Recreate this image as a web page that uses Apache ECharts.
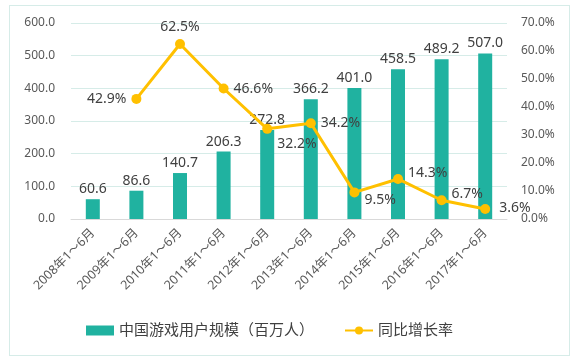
<!DOCTYPE html>
<html><head><meta charset="utf-8">
<script src="https://cdn.jsdelivr.net/npm/echarts@6/dist/echarts.min.js"></script>
<style>html,body{margin:0;padding:0;background:#fff}#c{width:578px;height:364px}
#frame{position:absolute;left:9px;top:5px;width:561px;height:351px;border:1px solid #d6ece8;box-sizing:border-box;pointer-events:none}</style>
</head><body><div id="c"></div><div id="frame"></div>
<script>
const categories = ['2008年1～6月','2009年1～6月','2010年1～6月','2011年1～6月','2012年1～6月','2013年1～6月','2014年1～6月','2015年1～6月','2016年1～6月','2017年1～6月'];
const users = [60.6, 86.6, 140.7, 206.3, 272.8, 366.2, 401.0, 458.5, 489.2, 507.0];
const growth = [null, 42.9, 62.5, 46.6, 32.2, 34.2, 9.5, 14.3, 6.7, 3.6];
const leftTicks = [0, 100, 200, 300, 400, 500, 600];
const rightTicks = [0, 10, 20, 30, 40, 50, 60, 70];
const growthLabelPos = ['right','left','top','right','right','right','right','right','right','right'];
const growthLabelOffset = [[0,0],[0,0],[0,0],[0,0],[0,15],[0,0],[0,8],[0,-6],[0,-6],[4,-1]];

const FONT = 'Noto Sans, Noto Sans CJK SC, sans-serif';
const chart = echarts.init(document.getElementById('c'));
chart.setOption({
  animation: false,
  textStyle: {fontFamily: FONT},
  grid: {left: 71, right: 71, top: 23, bottom: 145},
  legend: {
    bottom: 21, left: 81, itemGap: 30, itemWidth: 28, itemHeight: 10,
    textStyle: {fontSize: 15, color: '#404040', fontFamily: FONT},
    data: [{name: '中国游戏用户规模（百万人）', icon: 'rect'}, {name: '同比增长率'}]
  },
  xAxis: {
    type: 'category', data: categories,
    axisLine: {lineStyle: {color: '#d9d9d9'}},
    axisTick: {show: false},
    axisLabel: {rotate: 45, fontSize: 12.5, color: '#595959', interval: 0, margin: 12, fontFamily: FONT}
  },
  yAxis: [{
    type: 'value', min: 0, max: 600, interval: 100,
    axisLabel: {formatter: v => v.toFixed(1), fontSize: 12, color: '#595959', margin: 16},
    splitLine: {lineStyle: {color: '#d6ece8'}},
    axisLine: {show: false}, axisTick: {show: false}
  }, {
    type: 'value', min: 0, max: 70, interval: 10,
    axisLabel: {formatter: v => v.toFixed(1) + '%', fontSize: 12, color: '#595959', margin: 14},
    splitLine: {show: false}, axisLine: {show: false}, axisTick: {show: false}
  }],
  series: [{
    name: '中国游戏用户规模（百万人）', type: 'bar', data: users, barWidth: 14,
    itemStyle: {color: '#20b2a0'},
    label: {show: true, position: 'top', fontSize: 14, color: '#404040', formatter: p => p.value.toFixed(1), distance: 3}
  }, {
    name: '同比增长率', type: 'line', yAxisIndex: 1,
    data: growth.map((v, i) => ({value: v, label: {position: growthLabelPos[i], offset: growthLabelOffset[i]}})),
    lineStyle: {color: '#ffc000', width: 3}, itemStyle: {color: '#ffc000'},
    symbol: 'circle', symbolSize: 10,
    label: {show: true, fontSize: 14, color: '#404040', formatter: p => p.value.toFixed(1) + '%', distance: 5}
  }]
});
</script></body></html>
